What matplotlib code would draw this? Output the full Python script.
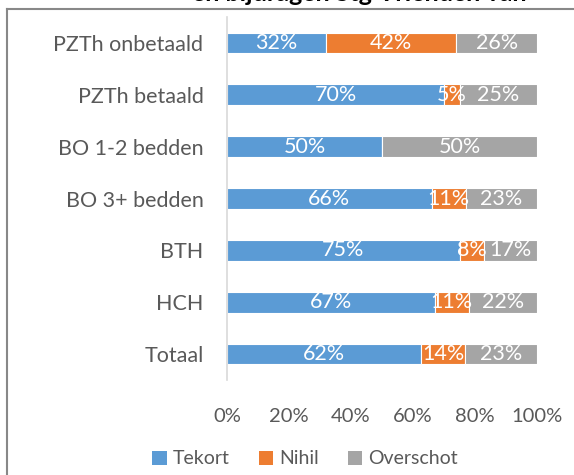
import matplotlib
matplotlib.use("Agg")
import matplotlib.pyplot as plt
from matplotlib.lines import Line2D
from matplotlib.patches import Patch
import numpy as np

categories = ["PZTh onbetaald", "PZTh betaald", "BO 1-2 bedden", "BO 3+ bedden", "BTH", "HCH", "Totaal"]
tekort = [32, 70, 50, 66, 75, 67, 62]
nihil = [42, 5, 0, 11, 8, 11, 14]
overschot = [26, 25, 50, 23, 17, 22, 23]
series_names = ["Tekort", "Nihil", "Overschot"]
colors = ["#5B9BD5", "#ED7D31", "#A5A5A5"]
xticks = [0, 20, 40, 60, 80, 100]
title = "Tekort, nihil en overschot na subsidies\nen bijdragen Stg Vrienden van"

plt.rcParams['font.family'] = ['Lato', 'DejaVu Sans']

W, H = 574, 475
fig = plt.figure(figsize=(W/100, H/100), dpi=100)
ax = fig.add_axes([227/W, 1-380/H, (537-227)/W, (380-17)/H])

data = np.array([tekort, nihil, overschot], dtype=float)
totals = data.sum(axis=0)
shares = data / totals * 100
y = np.arange(len(categories))
left = np.zeros(len(categories))
for i in range(3):
    ax.barh(y, shares[i], left=left, height=0.4, color=colors[i],
            edgecolor='white', linewidth=0.8)
    for j in range(len(categories)):
        if data[i, j] > 0:
            ax.text(left[j] + shares[i, j]/2, y[j], f"{int(data[i, j])}%",
                    ha='center', va='center', color='white', fontsize=15.5)
    left += shares[i]

ax.set_ylim(len(categories)-0.5, -0.5)
ax.set_xlim(0, 100)
ax.set_yticks(y)
ax.set_yticklabels(categories, fontsize=15.5, color='#595959')
ax.set_xticks(xticks)
ax.set_xticklabels([f"{t}%" for t in xticks], fontsize=14.5, color='#595959')
ax.tick_params(axis='both', length=0)
ax.tick_params(axis='y', pad=17)
ax.tick_params(axis='x', pad=20)
for s in ['top', 'right', 'bottom']:
    ax.spines[s].set_visible(False)
ax.spines['left'].set_color('#D9D9D9')
ax.spines['left'].set_linewidth(1.2)

handles = [Patch(facecolor=c, edgecolor='none') for c in colors]
fig.legend(handles, series_names, loc='center', bbox_to_anchor=(305/W, 1-459/H),
           ncol=3, frameon=False, fontsize=14, handlelength=0.75, handleheight=0.75,
           handletextpad=0.3, columnspacing=1.5, labelcolor='#595959')

fig.text(359/W, 1-5/H, title, ha='center', va='bottom', fontsize=18,
         fontweight='bold', color='black', multialignment='center')

fig.add_artist(Line2D([7/W, 7/W], [0, 1-9/H], transform=fig.transFigure, color='#888888', lw=1.5))
fig.add_artist(Line2D([7/W, 1], [1-9/H, 1-9/H], transform=fig.transFigure, color='#888888', lw=1.5))

fig.savefig("out.png", dpi=100)
